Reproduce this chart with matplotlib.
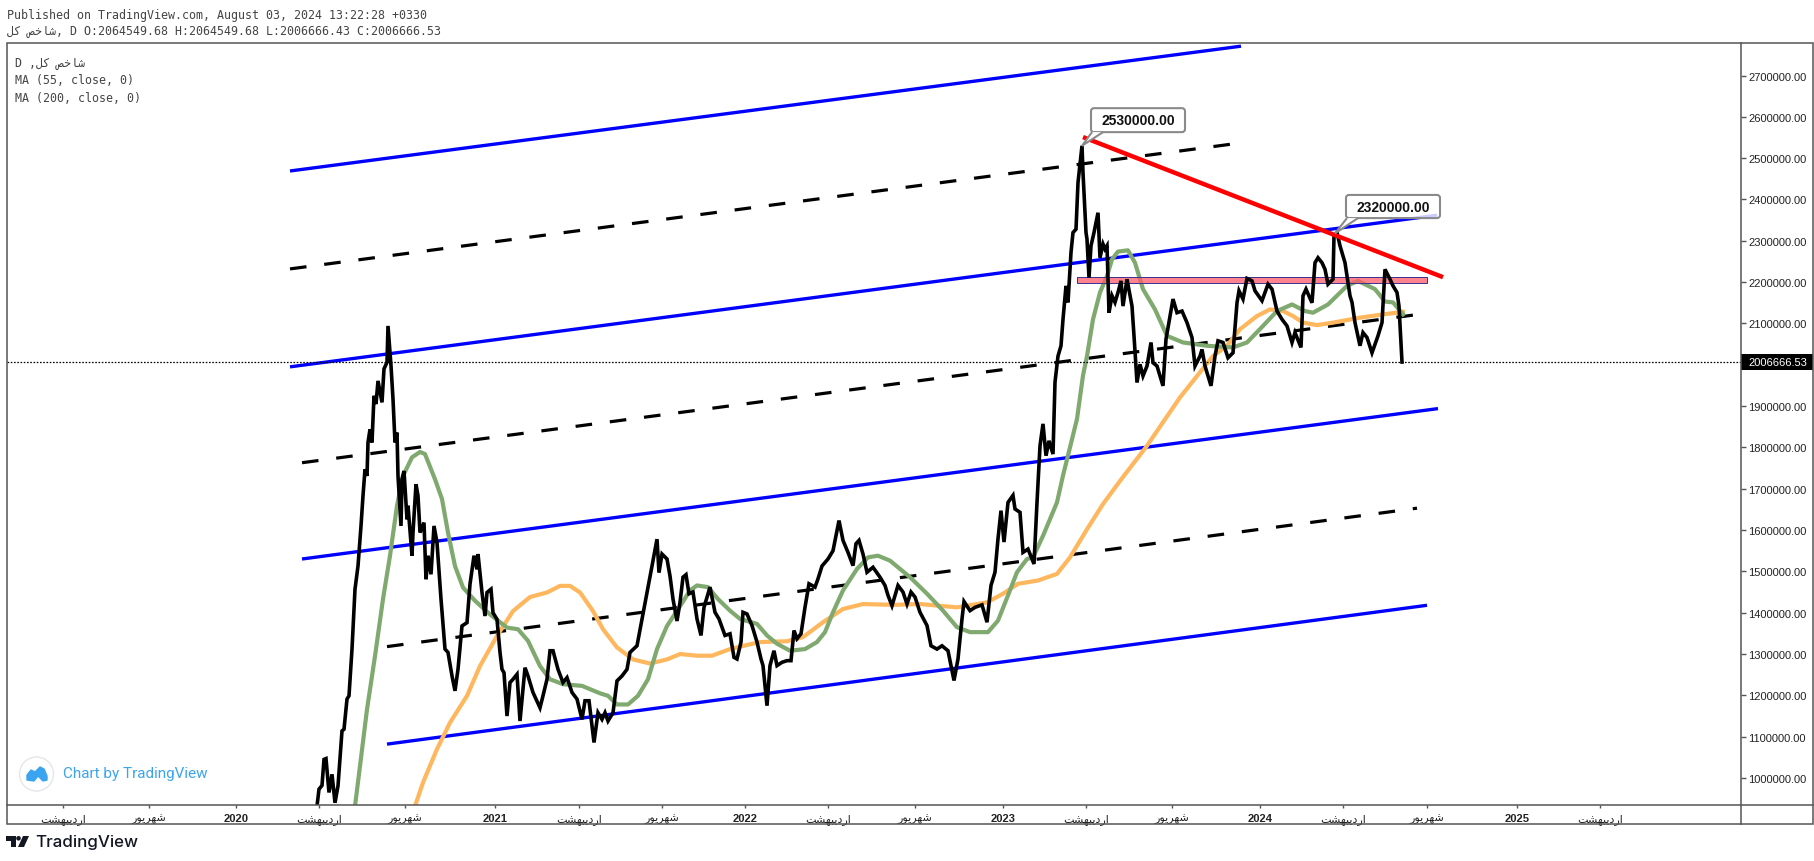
import numpy as np
import matplotlib
matplotlib.use('Agg')
import matplotlib.pyplot as plt
from matplotlib.patches import Rectangle, FancyBboxPatch, Polygon, Circle
from matplotlib.transforms import blended_transform_factory

plt.rcParams['font.family'] = ['Liberation Sans', 'DejaVu Sans']

# x is bars counted from the 2020 tick, prices are in thousands
close_bars = [81,83,86,88,90,93,96,99,102,106,108,111,113,116,119,122,125,127,129,131,132,134,136,138,140,142,146,148,151,152,155,157,159,161,162,165,166,168,171,172,176,177,180,182,184,188,190,192,195,198,201,205,209,212,216,219,222,226,231,234,238,241,242,246,249,251,255,257,261,264,266,268,271,274,277,281,284,289,292,297,304,307,311,314,317,322,327,331,336,341,346,349,353,358,362,366,369,372,377,381,386,391,394,401,406,411,416,421,423,426,431,434,437,441,444,
              447,450,453,457,461,465,468,474,479,483,489,494,498,501,505,507,511,516,521,525,527,531,534,538,541,546,551,555,558,561,565,569,573,579,582,586,592,597,603,607,612,617,620,623,627,631,637,644,649,652,656,662,667,671,675,679,684,691,695,701,706,712,718,722,726,728,734,739,746,751,755,759,762,765,768,772,777,779,784,787,792,798,801,804,807,810,813,817,819,
              822,825,827,830,832,835,837,840,842,846,847,850,851,853,855,858,862,864,867,869,871,873,876,879,882,885,887,891,896,898,901,904,907,911,915,917,921,927,930,934,937,941,946,951,956,959,964,966,969,975,979,982,987,992,997,1001,1003,1007,1011,1016,1019,1026,1032,1036,1041,1046,1051,1056,1059,1065,1067,1070,1076,1079,1082,1086,1089,1092,1097,1098,1101,1104,1109,1114,1116,1119,1124,1127,1131,1136,1142,1146,1149,1154,1157,1161,1163,1166]
close_k = [932,973,982,1045,1047,965,1009,940,981,1114,1118,1191,1199,1312,1457,1513,1610,1683,1747,1731,1812,1844,1812,1925,1905,1961,1909,1990,2006,2094,1998,1917,1812,1836,1731,1610,1723,1743,1626,1659,1538,1594,1711,1683,1594,1618,1481,1538,1493,1610,1570,1433,1312,1304,1247,1211,1263,1368,1376,1469,1538,1505,1542,1449,1392,1449,1457,1400,1384,1304,1263,1255,1150,1231,1239,1251,1138,1267,1247,1207,1170,1199,1239,1308,1308,1263,1231,1243,1207,1191,1142,1187,1187,1086,1158,1142,1158,1138,1158,1235,1247,1263,1304,1320,1384,1449,1513,1578,1497,1542,1530,1489,1433,1380,1425,
           1486,1492,1446,1450,1385,1345,1413,1462,1401,1385,1345,1349,1292,1288,1329,1401,1397,1369,1329,1288,1272,1175,1272,1308,1272,1280,1284,1284,1357,1337,1349,1413,1470,1462,1482,1513,1530,1550,1623,1575,1546,1514,1567,1575,1542,1498,1510,1486,1466,1442,1417,1466,1450,1421,1450,1438,1401,1369,1320,1312,1320,1308,1236,1288,1385,1427,1405,1413,1419,1377,1466,1498,1579,1647,1571,1667,1684,1651,1643,1546,1554,1518,1667,1804,1857,1780,1816,1784,1958,
           2021,2046,2110,2191,2151,2272,2320,2328,2441,2530,2465,2320,2304,2211,2288,2320,2368,2259,2292,2280,2288,2126,2167,2151,2175,2203,2142,2207,2142,2070,1957,2001,1973,1997,2054,2005,1997,1949,2062,2118,2159,2126,2130,2102,2066,1997,2021,2037,1997,1949,2021,2058,2054,2017,2029,2150,2179,2159,2209,2203,2179,2155,2195,2183,2130,2110,2094,2054,2078,2042,2167,2183,2150,2247,2259,2247,2231,2195,2207,2312,2320,2288,2247,2167,2151,2102,2046,2078,2066,2029,2070,2102,2231,2207,2191,2175,2142,2006.667]

ma55_bars = [119,124,131,139,147,154,161,167,176,184,189,199,206,212,219,227,239,254,271,282,292,304,314,327,346,364,372,381,392,402,412,421,431,447,454,461,472,482,494,504,521,531,541,554,569,581,589,597,607,621,632,642,654,674,691,707,721,734,752,762,772,781,791,797,807,821,827,834,841,847,851,857,864,871,876,882,892,899,907,919,931,947,971,997,1011,1027,1041,1056,1069,1077,1092,1111,1122,1139,1149,1157,1167]
ma55_k = [932,1029,1166,1295,1433,1538,1659,1731,1776,1789,1784,1723,1675,1594,1513,1461,1429,1396,1364,1360,1332,1271,1239,1227,1223,1205,1199,1178,1178,1199,1239,1312,1368,1427,1454,1466,1462,1433,1405,1385,1373,1345,1325,1308,1312,1329,1353,1401,1454,1506,1534,1538,1526,1486,1446,1405,1365,1353,1353,1381,1442,1498,1530,1534,1586,1667,1732,1800,1869,1974,2021,2110,2175,2215,2255,2274,2277,2247,2183,2134,2070,2054,2046,2042,2054,2094,2130,2146,2130,2126,2146,2191,2203,2183,2153,2151,2122]

ma200_bars = [179,187,201,214,231,244,261,277,294,311,324,334,344,357,367,381,397,414,431,444,461,476,494,511,524,551,567,587,607,627,657,684,721,751,767,782,802,821,834,851,867,884,911,927,944,964,977,991,1004,1021,1034,1047,1057,1067,1081,1097,1124,1147,1167]
ma200_k = [932,989,1070,1134,1199,1271,1344,1404,1438,1449,1465,1465,1449,1404,1360,1316,1287,1277,1287,1300,1296,1296,1312,1322,1329,1331,1341,1377,1409,1421,1419,1421,1413,1425,1446,1470,1478,1494,1534,1602,1663,1719,1804,1861,1921,1982,2021,2046,2086,2118,2134,2130,2118,2102,2096,2102,2114,2122,2128]

# channel lines, each one is (bar, price k) to (bar, price k)
blue_lines = [((54,2469),(1005,2771)), ((54,1995),(1201,2362)), ((66,1530),(1202,1894)), ((151,1082),(1191,1418))]
dash_lines = [((54,2232),(1005,2537)), ((66,1763),(1192,2125)), ((151,1318),(1181,1653))]
red_line = ((847,2551),(1207,2212))
zone = (841,1191,2197,2212)

last_price = 2006666.53
price_ticks = [1000,1100,1200,1300,1400,1500,1600,1700,1800,1900,2100,2200,2300,2400,2500,2600,2700]

ordi = '\ufe96\ufeb8\ufeec\ufe92\ufef3\ufea9\ufead\ufe8d'
shah = '\ufead\ufeee\ufef3\ufeae\ufeec\ufeb7'
time_ticks = [-173,-87,0,83,169,259,343,426,509,592,679,767,850,936,1024,1107,1191,1281,1364]
time_labels = [ordi,shah,'2020',ordi,shah,'2021',ordi,shah,'2022',ordi,shah,'2023',ordi,shah,'2024',ordi,shah,'2025',ordi]

name = '\ufede\ufb90 \ufeba\ufea7\ufe8e\ufeb7'

W, H = 1814, 862
fig = plt.figure(figsize=(W/100, H/100), dpi=100, facecolor='white')
ax = fig.add_axes([7/W, (H-806)/H, (1741-7)/W, (806-44)/H])
ax.set_xlim(-229, 1505)
ax.set_ylim(934700, 2778700)
for s in ax.spines.values():
    s.set_visible(False)

for a, b in blue_lines:
    ax.plot([a[0],b[0]], [a[1]*1000,b[1]*1000], color='#0000ff', lw=2.4, solid_capstyle='butt', zorder=2)
for a, b in dash_lines:
    ax.plot([a[0],b[0]], [a[1]*1000,b[1]*1000], color='black', lw=2.3, linestyle=(0,(5.2,5.6)), dash_capstyle='butt', zorder=2)

ax.plot(ma200_bars, np.array(ma200_k)*1000, color='#ffb75e', lw=3, zorder=3)
ax.plot(ma55_bars, np.array(ma55_k)*1000, color='#7fa96f', lw=3, zorder=3)

ax.add_patch(Rectangle((zone[0],zone[2]*1000), zone[1]-zone[0], (zone[3]-zone[2])*1000, facecolor='#ff5a68', alpha=0.75, edgecolor='none', zorder=4))
ax.add_patch(Rectangle((zone[0],zone[2]*1000), zone[1]-zone[0], (zone[3]-zone[2])*1000, facecolor='none', edgecolor='#3b2f8f', lw=0.7, zorder=4))

ax.plot(close_bars, np.array(close_k)*1000, color='black', lw=2.6, solid_joinstyle='miter', zorder=5)
ax.plot([red_line[0][0],red_line[1][0]], [red_line[0][1]*1000,red_line[1][1]*1000], color='#ff0000', lw=3.2, solid_capstyle='butt', zorder=6)

ax.axhline(last_price, color='black', lw=0.9, linestyle=(0,(1.3,1.3)), zorder=6)

# the two price callouts
def callout(x0, x1, lo, hi, tip, b0, b1, label):
    ax.add_patch(FancyBboxPatch((x0,lo*1000), x1-x0, (hi-lo)*1000, boxstyle='round,pad=0,rounding_size=3',
                                mutation_aspect=2420, facecolor=(1,1,1,0.8), edgecolor='#8a8a8a', lw=1.5, zorder=7))
    ax.add_patch(Polygon([(b0,lo*1000),(tip[0],tip[1]*1000),(b1,lo*1000)], closed=False, facecolor='white', edgecolor='#8a8a8a', lw=1.5, zorder=8))
    ax.text((x0+x1)/2, (lo+hi)/2*1000, label, ha='center', va='center', fontsize=10, fontweight='bold', color='#111111', zorder=9)

callout(855, 949, 2563, 2621, (846,2530), 856, 867, '2530000.00')
callout(1110, 1204, 2355, 2411, (1099,2318), 1111, 1122, '2320000.00')

ax.yaxis.tick_right()
ax.set_yticks(np.array(price_ticks)*1000)
ax.set_yticklabels(['%.2f' % (v*1000) for v in price_ticks])
ax.tick_params(axis='y', length=3.6, width=1, color='#555555', pad=1.5, labelsize=8, labelcolor='#222222')
ax.set_xticks(time_ticks)
ax.set_xticklabels(time_labels)
ax.tick_params(axis='x', length=2.5, width=1, color='#555555', pad=3.5, labelsize=8, labelcolor='#222222')
for t in ax.get_xticklabels():
    if t.get_text().startswith('20'):
        t.set_fontweight('bold')

# last price tag on the scale
tr = blended_transform_factory(ax.transAxes, ax.transData)
ax.add_patch(Rectangle((1.0,last_price-19300), 72/1734, 38700, transform=tr, facecolor='black', edgecolor='none', clip_on=False, zorder=9))
ax.text(1.0042, last_price, '%.2f' % last_price, transform=tr, color='white', fontsize=8, va='center', ha='left', clip_on=False, zorder=10)

# everything around the chart, in pixels of the picture
ov = fig.add_axes([0,0,1,1], facecolor='none')
ov.set_xlim(0, W)
ov.set_ylim(H, 0)
ov.axis('off')
ov.add_patch(Rectangle((7,44), 1806, 781, facecolor='none', edgecolor='#555555', lw=1.1))
ov.plot([7,1813], [806,806], color='#555555', lw=1.1)
ov.plot([1741,1741], [44,825], color='#555555', lw=1.1)

mono = ['DejaVu Sans Mono', 'DejaVu Sans']
ov.text(7, 15, 'Published on TradingView.com, August 03, 2024 13:22:28 +0330', family=mono, fontsize=8.35, color='#444444', va='center')
ov.text(7, 32, name + ', D O:2064549.68 H:2064549.68 L:2006666.43 C:2006666.53', family=mono, fontsize=8.35, color='#444444', va='center')
ov.text(15, 63, 'D ,' + name, family=mono, fontsize=8.35, color='#444444', va='center')
ov.text(15, 80, 'MA (55, close, 0)', family=mono, fontsize=8.35, color='#444444', va='center')
ov.text(15, 98, 'MA (200, close, 0)', family=mono, fontsize=8.35, color='#444444', va='center')

ov.add_patch(Circle((36.5,775), 17, facecolor='white', edgecolor='#e4e6ea', lw=1))
ov.add_patch(Polygon([(27,781),(27,776),(31,771),(35,773),(40,768),(44,770),(47,777),(47,781),(43,782),(38,777),(34,782)], facecolor='#3ba4f0', edgecolor='#3ba4f0', lw=1, joinstyle='round'))
ov.text(63, 774, 'Chart by TradingView', family='Roboto', fontsize=11, color='#3ba4f0', va='center')

ov.add_patch(Polygon([(6,837),(16,837),(16,848),(11,848),(11,842),(6,842)], facecolor='#131722', edgecolor='none'))
ov.add_patch(Circle((18.5,839.3), 2.3, facecolor='#131722', edgecolor='none'))
ov.add_patch(Polygon([(23,837),(29,837),(24,848),(18,848)], facecolor='#131722', edgecolor='none'))
ov.text(35, 843, 'TradingView', family='Inter', fontsize=12.2, fontweight='medium', color='#131722', va='center')

fig.savefig('out.png', dpi=100)
